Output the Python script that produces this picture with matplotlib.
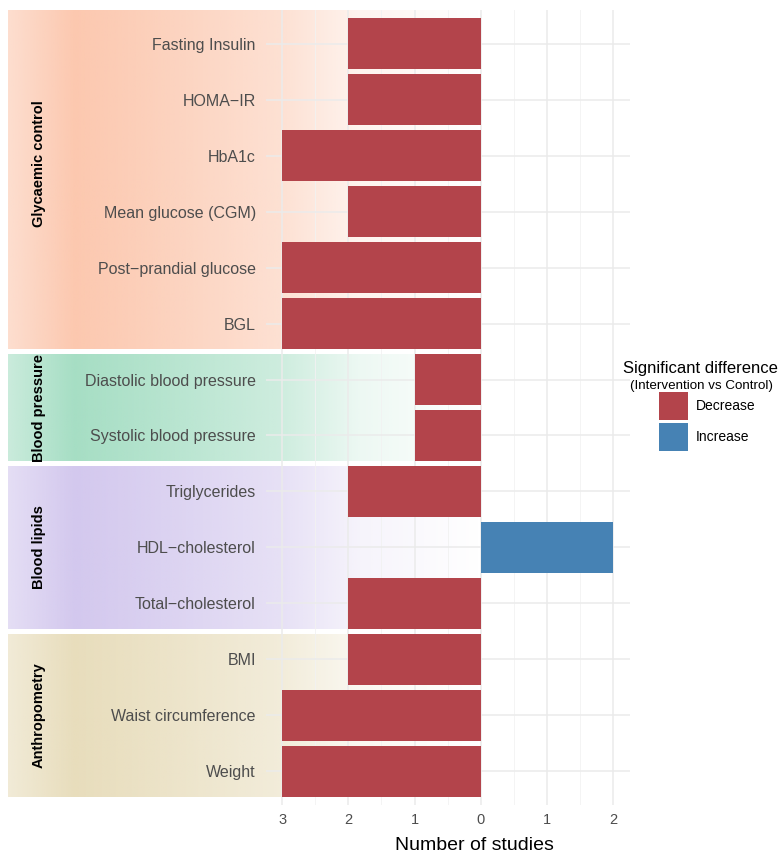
import numpy as np
import matplotlib
matplotlib.use("Agg")
import matplotlib.pyplot as plt
from matplotlib.patches import Rectangle
from matplotlib.colors import to_rgb

plt.rcParams['font.family'] = ['Liberation Sans', 'DejaVu Sans']

# outcomes, top to bottom
outcomes = ["Fasting Insulin", "HOMA\u2212IR", "HbA1c", "Mean glucose (CGM)",
            "Post\u2212prandial glucose", "BGL",
            "Diastolic blood pressure", "Systolic blood pressure",
            "Triglycerides", "HDL\u2212cholesterol", "Total\u2212cholesterol",
            "BMI", "Waist circumference", "Weight"]
# number of studies (negative = decrease, positive = increase)
n_studies = [-2, -2, -3, -2, -3, -3, -1, -1, -2, 2, -2, -2, -3, -3]
direction = ["Decrease", "Decrease", "Decrease", "Decrease", "Decrease", "Decrease",
             "Decrease", "Decrease", "Decrease", "Increase", "Decrease",
             "Decrease", "Decrease", "Decrease"]

groups = ["Glycaemic control", "Blood pressure", "Blood lipids", "Anthropometry"]
group_first = [0, 6, 8, 11]
group_last = [5, 7, 10, 13]
group_label_y = [2.15, 6.5, 9.0, 12.0]
group_colors = ["#FCC8AF", "#A6DEC4", "#D3C8EE", "#E8DDBC"]

legend_labels = ["Decrease", "Increase"]
fill = {"Decrease": "#B3444B", "Increase": "#4682B4"}

fig = plt.figure(figsize=(7.83, 8.59), dpi=100)
W, H = 783, 859
ax = fig.add_axes([265.5 / W, 1 - 805 / H, (630 - 265.5) / W, (805 - 10) / H])
ax.set_facecolor("none")

y = np.arange(len(outcomes))

# gradient bands behind each group
px_per_unit = (630 - 265.5) / 5.5
x_left = (8 - 480.9) / px_per_unit
xs = np.linspace(x_left, 0, 400)
alpha = np.interp(xs, [x_left, x_left + 1.0, -5.0, -3.0, -1.8, 0.0],
                  [0.6, 1.0, 0.85, 0.55, 0.2, 0.0])
for i, g in enumerate(groups):
    rgba = np.zeros((1, len(xs), 4))
    rgba[..., :3] = to_rgb(group_colors[i])
    rgba[..., 3] = alpha
    top = group_first[i] - (0.6 if i == 0 else 0.45)
    bot = group_last[i] + 0.45
    im = ax.imshow(rgba, extent=(x_left, 0, bot, top), aspect="auto",
                   interpolation="bilinear", zorder=0.1)
    im.set_clip_on(False)
    ax.text(x_left + 31 / px_per_unit, group_label_y[i], g, rotation=90,
            ha="center", va="center", fontsize=10.5, fontweight="bold", color="black")

ax.barh(y, n_studies, height=0.9, color=[fill[d] for d in direction], zorder=2)

ax.set_xlim(-3.25, 2.25)
ax.set_ylim(13.6, -0.6)
ax.set_yticks(y)
ax.set_yticklabels(outcomes, fontsize=11.5, color="#4D4D4D")
ax.set_xticks([-3, -2, -1, 0, 1, 2])
ax.set_xticklabels(["3", "2", "1", "0", "1", "2"], fontsize=10.5, color="#4D4D4D")
ax.set_xticks(np.arange(-2.5, 2.5, 1.0), minor=True)
ax.tick_params(axis="both", which="both", length=0)
ax.tick_params(axis="y", pad=7)
ax.tick_params(axis="x", pad=6)
ax.set_axisbelow(True)
ax.grid(True, which="major", color="#EBEBEB", linewidth=1.1)
ax.grid(True, which="minor", axis="x", color="#F2F2F2", linewidth=0.6)
for s in ax.spines.values():
    s.set_visible(False)

fig.text(474 / W, 1 - 845 / H, "Number of studies", ha="center", va="center",
         fontsize=14)

# legend
fig.text(700 / W, 1 - 368 / H, "Significant difference", ha="center", va="center",
         fontsize=12)
fig.text(702 / W, 1 - 386 / H, "(Intervention vs Control)", ha="center", va="center",
         fontsize=9.6)
for k, lab in enumerate(legend_labels):
    y0 = 392 + k * 31
    fig.patches.append(Rectangle((659 / W, 1 - (y0 + 28) / H), 29 / W, 28 / H,
                                 facecolor=fill[lab], edgecolor="none",
                                 transform=fig.transFigure))
    fig.text(696 / W, 1 - (y0 + 14) / H, lab, ha="left", va="center", fontsize=10)

fig.savefig("out.png", dpi=100)
